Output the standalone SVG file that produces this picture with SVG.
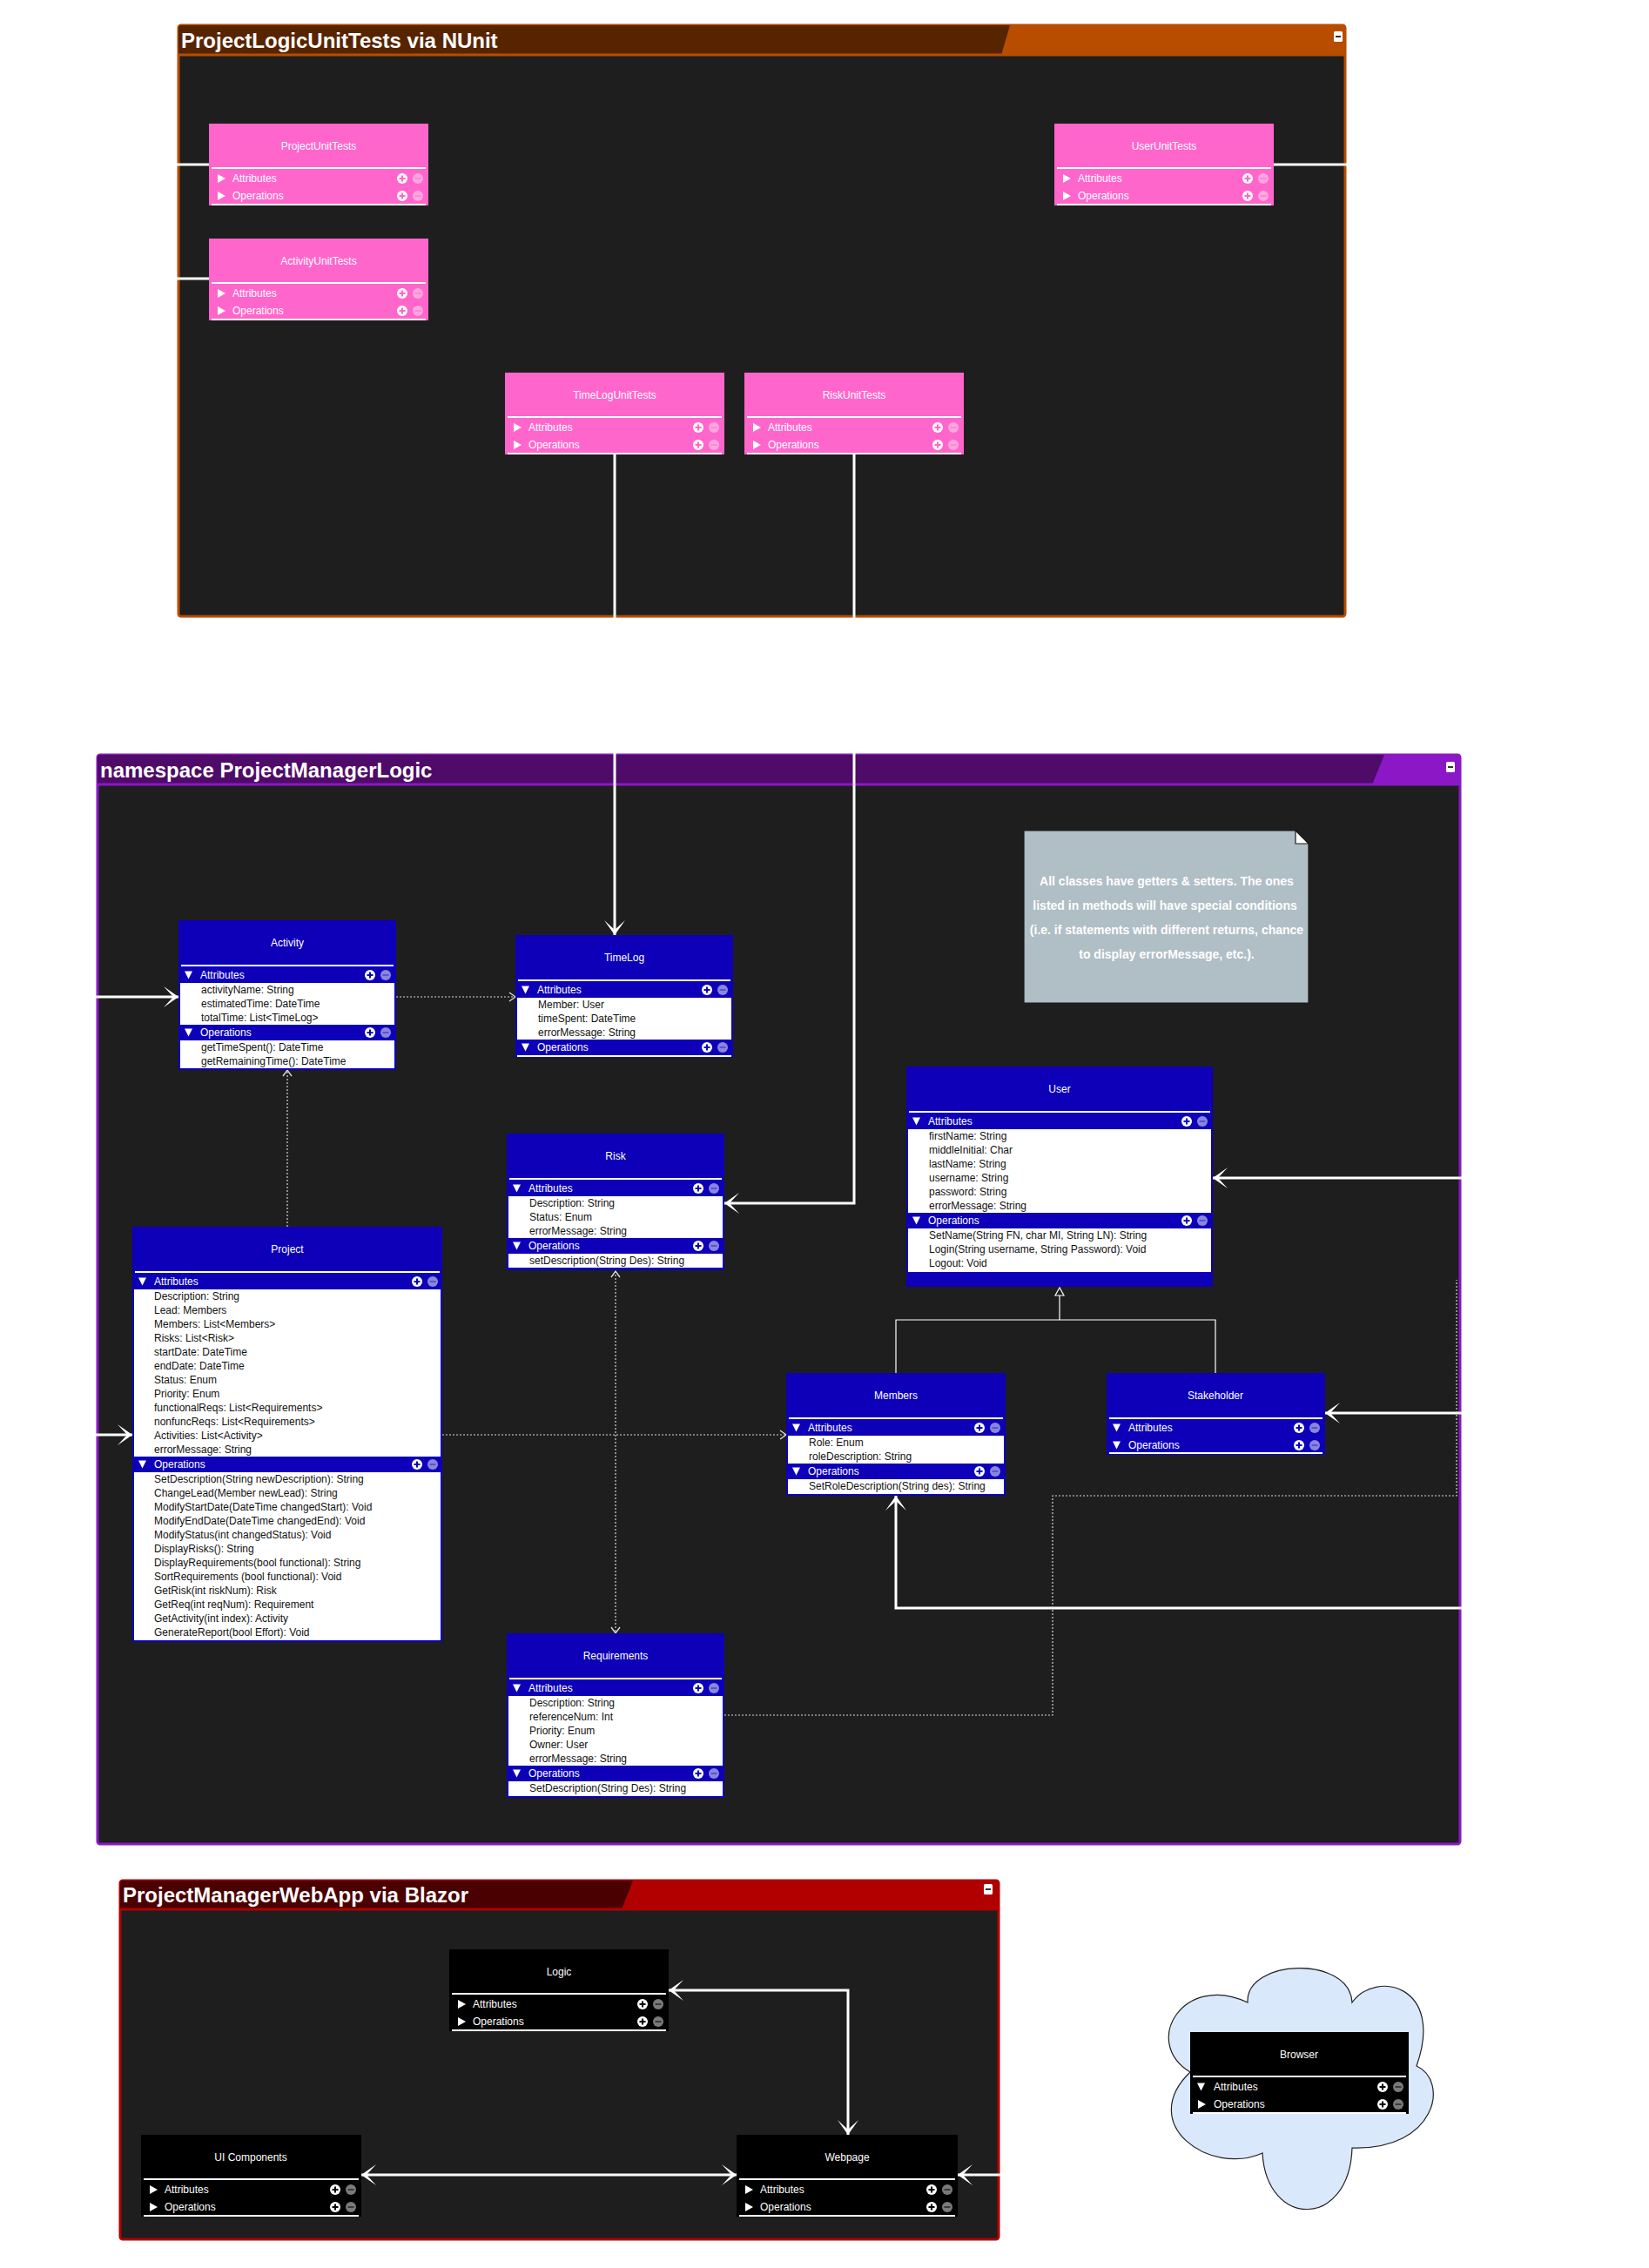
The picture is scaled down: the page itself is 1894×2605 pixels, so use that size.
<svg xmlns="http://www.w3.org/2000/svg" width="1894" height="2605" viewBox="0 0 1894 2605">
<style>
text{font-family:"Liberation Sans",Arial,Helvetica,sans-serif;font-size:12px}
.ft{font-size:24px;font-weight:bold;fill:#fff}
.tt{fill:#fff;text-anchor:middle}
.sh{fill:#fff}
.it{fill:#111}
.nt{font-size:14px;font-weight:bold;fill:#fff;text-anchor:middle}
.blu{fill:#0d00b8}
.pk{fill:#ff66cc}
.bk{fill:#000}
.wh{fill:#fff}
.con{fill:none;stroke:#fff;stroke-width:3}
.dot{fill:none;stroke:#d8d8d8;stroke-width:1.2;stroke-dasharray:2 2}
.gen{fill:none;stroke:#fff;stroke-width:1.2}
</style>
<defs>
<g id="pB"><circle r="6" fill="#fff"/><path d="M-3.5,0H3.5M0,-3.5V3.5" stroke="#0d00b8" stroke-width="2"/></g>
<g id="mB"><circle r="6" fill="#8a86dc"/><path d="M-3.5,0H3.5" stroke="#5b53cf" stroke-width="2"/></g>
<g id="pP"><circle r="6" fill="#fff"/><path d="M-3.5,0H3.5M0,-3.5V3.5" stroke="#ff66cc" stroke-width="2"/></g>
<g id="mP"><circle r="6" fill="#ffa6de"/><path d="M-3.5,0H3.5" stroke="#ff88d6" stroke-width="2"/></g>
<g id="pK"><circle r="6" fill="#fff"/><path d="M-3.5,0H3.5M0,-3.5V3.5" stroke="#000" stroke-width="2"/></g>
<g id="mK"><circle r="6" fill="#7a7a7a"/><path d="M-3.5,0H3.5" stroke="#3a3a3a" stroke-width="2"/></g>
<path id="tR" d="M0,-5L9,0L0,5Z" fill="#fff"/>
<path id="tD" d="M0,-4.5H9L4.5,4.5Z" fill="#fff"/>
<marker id="aw" viewBox="-20 -14 22 28" markerWidth="22" markerHeight="28" refX="0" refY="0" orient="auto-start-reverse" markerUnits="userSpaceOnUse"><path d="M0,0L-17,-12L-6,0L-17,12Z" fill="#fff"/></marker>
<marker id="ad" viewBox="-10 -7 12 14" markerWidth="12" markerHeight="14" refX="0" refY="0" orient="auto-start-reverse" markerUnits="userSpaceOnUse"><path d="M-7,-5L0,0L-7,5" fill="none" stroke="#e0e0e0" stroke-width="1.3"/></marker>
<marker id="ag" viewBox="-12 -7 14 14" markerWidth="14" markerHeight="14" refX="0" refY="0" orient="auto" markerUnits="userSpaceOnUse"><path d="M0,0L-9,-5L-9,5Z" fill="#1e1e1e" stroke="#fff" stroke-width="1.2"/></marker>
</defs>
<rect width="1894" height="2605" fill="#fff"/>

<!-- Frames -->
<g id="frame-unittests">
<rect x="205" y="29" width="1340" height="679" rx="3" fill="#1e1e1e" stroke="#b84d00" stroke-width="3"/>
<path d="M205,32Q205,29 208,29H1160L1150,63H205Z" fill="#572400"/>
<path d="M1160,29H1542Q1545,29 1545,32V63H1150Z" fill="#b84d00"/>
<line x1="205" y1="63" x2="1545" y2="63" stroke="#b84d00" stroke-width="3"/>
<text class="ft" x="208" y="55">ProjectLogicUnitTests via NUnit</text>
<rect x="1532" y="36" width="10" height="12" rx="1.5" fill="#fff"/><rect x="1534" y="41" width="6" height="2" fill="#333"/>
</g>
<g id="frame-logic">
<rect x="112" y="867" width="1565" height="1251" rx="3" fill="#1e1e1e" stroke="#8b17c7" stroke-width="3"/>
<path d="M112,870Q112,867 115,867H1590L1576,901H112Z" fill="#4e0b67"/>
<path d="M1590,867H1674Q1677,867 1677,870V901H1576Z" fill="#8b17c7"/>
<line x1="112" y1="901" x2="1677" y2="901" stroke="#8b17c7" stroke-width="3"/>
<text class="ft" x="115" y="893">namespace ProjectManagerLogic</text>
<rect x="1661" y="875" width="10" height="12" rx="1.5" fill="#fff"/><rect x="1663" y="880" width="6" height="2" fill="#333"/>
</g>
<g id="frame-webapp">
<rect x="138" y="2160" width="1009" height="412" rx="3" fill="#1e1e1e" stroke="#b00000" stroke-width="3"/>
<path d="M138,2163Q138,2160 141,2160H727L714,2193H138Z" fill="#4a0000"/>
<path d="M727,2160H1144Q1147,2160 1147,2163V2193H714Z" fill="#b00000"/>
<line x1="138" y1="2193" x2="1147" y2="2193" stroke="#b00000" stroke-width="3"/>
<text class="ft" x="141" y="2185">ProjectManagerWebApp via Blazor</text>
<rect x="1130" y="2164" width="10" height="12" rx="1.5" fill="#fff"/><rect x="1132" y="2169" width="6" height="2" fill="#333"/>
</g>
<g id="browser-cloud">
<path d="M1367,2380C1310,2345 1360,2265 1433,2300C1430,2250 1550,2245 1553,2300C1580,2262 1660,2280 1627,2373C1665,2390 1650,2470 1553,2467C1550,2560 1455,2560 1450,2473C1390,2500 1305,2440 1367,2380Z" fill="#dae8fc" stroke="#222" stroke-width="1.2"/>
</g>

<!-- Connectors -->
<g id="connectors">
<path class="con" d="M240,189H60V1648H152" marker-end="url(#aw)"/>
<path class="con" d="M240,320H80V1145H205" marker-end="url(#aw)"/>
<path class="con" d="M1463,189H1760V1353H1393" marker-end="url(#aw)"/>
<path class="con" d="M1760,1353V1623H1522" marker-end="url(#aw)"/>
<path class="con" d="M1760,1623V1847H1029V1718" marker-end="url(#aw)"/>
<path class="con" d="M706,522V1074" marker-end="url(#aw)"/>
<path class="con" d="M981,522V1382H832" marker-end="url(#aw)"/>
<path class="dot" d="M455,1145H592" marker-end="url(#ad)"/>
<path class="dot" d="M330,1409V1229" marker-end="url(#ad)"/>
<path class="dot" d="M508,1648H903" marker-end="url(#ad)"/>
<path class="dot" d="M707,1460V1876" marker-start="url(#ad)" marker-end="url(#ad)"/>
<path class="dot" d="M832,1970H1209V1718H1673V1470"/>
<path class="gen" d="M1029,1577V1516H1396V1577"/>
<path class="gen" d="M1217,1516V1479" marker-end="url(#ag)"/>
<path class="con" d="M768,2286H974V2452" marker-start="url(#aw)" marker-end="url(#aw)"/>
<path class="con" d="M415,2498H846" marker-start="url(#aw)" marker-end="url(#aw)"/>
<path class="con" d="M1250,2498H1100" marker-end="url(#aw)"/>
</g>

<!-- Unit test nodes -->
<g id="ProjectUnitTests">
<rect x="240" y="142" width="252" height="94" class="pk"/>
<text class="tt" x="366" y="172">ProjectUnitTests</text>
<rect x="243" y="192" width="246" height="2" class="wh"/>
<use href="#tR" x="250" y="205"/><text class="sh" x="267" y="209">Attributes</text><use href="#pP" x="462" y="205"/><use href="#mP" x="480" y="205"/>
<use href="#tR" x="250" y="225"/><text class="sh" x="267" y="229">Operations</text><use href="#pP" x="462" y="225"/><use href="#mP" x="480" y="225"/>
<rect x="243" y="234" width="246" height="2" class="wh"/>
</g>
<g id="ActivityUnitTests">
<rect x="240" y="274" width="252" height="94" class="pk"/>
<text class="tt" x="366" y="304">ActivityUnitTests</text>
<rect x="243" y="324" width="246" height="2" class="wh"/>
<use href="#tR" x="250" y="337"/><text class="sh" x="267" y="341">Attributes</text><use href="#pP" x="462" y="337"/><use href="#mP" x="480" y="337"/>
<use href="#tR" x="250" y="357"/><text class="sh" x="267" y="361">Operations</text><use href="#pP" x="462" y="357"/><use href="#mP" x="480" y="357"/>
<rect x="243" y="366" width="246" height="2" class="wh"/>
</g>
<g id="UserUnitTests">
<rect x="1211" y="142" width="252" height="94" class="pk"/>
<text class="tt" x="1337" y="172">UserUnitTests</text>
<rect x="1214" y="192" width="246" height="2" class="wh"/>
<use href="#tR" x="1221" y="205"/><text class="sh" x="1238" y="209">Attributes</text><use href="#pP" x="1433" y="205"/><use href="#mP" x="1451" y="205"/>
<use href="#tR" x="1221" y="225"/><text class="sh" x="1238" y="229">Operations</text><use href="#pP" x="1433" y="225"/><use href="#mP" x="1451" y="225"/>
<rect x="1214" y="234" width="246" height="2" class="wh"/>
</g>
<g id="TimeLogUnitTests">
<rect x="580" y="428" width="252" height="94" class="pk"/>
<text class="tt" x="706" y="458">TimeLogUnitTests</text>
<rect x="583" y="478" width="246" height="2" class="wh"/>
<use href="#tR" x="590" y="491"/><text class="sh" x="607" y="495">Attributes</text><use href="#pP" x="802" y="491"/><use href="#mP" x="820" y="491"/>
<use href="#tR" x="590" y="511"/><text class="sh" x="607" y="515">Operations</text><use href="#pP" x="802" y="511"/><use href="#mP" x="820" y="511"/>
<rect x="583" y="520" width="246" height="2" class="wh"/>
</g>
<g id="RiskUnitTests">
<rect x="855" y="428" width="252" height="94" class="pk"/>
<text class="tt" x="981" y="458">RiskUnitTests</text>
<rect x="858" y="478" width="246" height="2" class="wh"/>
<use href="#tR" x="865" y="491"/><text class="sh" x="882" y="495">Attributes</text><use href="#pP" x="1077" y="491"/><use href="#mP" x="1095" y="491"/>
<use href="#tR" x="865" y="511"/><text class="sh" x="882" y="515">Operations</text><use href="#pP" x="1077" y="511"/><use href="#mP" x="1095" y="511"/>
<rect x="858" y="520" width="246" height="2" class="wh"/>
</g>

<!-- Logic classes -->
<g id="Activity">
<rect x="205" y="1057" width="250" height="172" class="blu"/>
<text class="tt" x="330" y="1087">Activity</text>
<rect x="208" y="1108" width="244" height="2" class="wh"/>
<use href="#tD" x="212" y="1120"/><text class="sh" x="230" y="1124">Attributes</text><use href="#pB" x="425" y="1120"/><use href="#mB" x="443" y="1120"/>
<rect x="207" y="1129" width="246" height="48" class="wh"/>
<text class="it" x="231" y="1141">activityName: String<tspan x="231" dy="16">estimatedTime: DateTime</tspan><tspan x="231" dy="16">totalTime: List&lt;TimeLog&gt;</tspan></text>
<use href="#tD" x="212" y="1186"/><text class="sh" x="230" y="1190">Operations</text><use href="#pB" x="425" y="1186"/><use href="#mB" x="443" y="1186"/>
<rect x="207" y="1195" width="246" height="32" class="wh"/>
<text class="it" x="231" y="1207">getTimeSpent(): DateTime<tspan x="231" dy="16">getRemainingTime(): DateTime</tspan></text>
</g>
<g id="TimeLog">
<rect x="592" y="1074" width="250" height="141" class="blu"/>
<text class="tt" x="717" y="1104">TimeLog</text>
<rect x="595" y="1125" width="244" height="2" class="wh"/>
<use href="#tD" x="599" y="1137"/><text class="sh" x="617" y="1141">Attributes</text><use href="#pB" x="812" y="1137"/><use href="#mB" x="830" y="1137"/>
<rect x="594" y="1146" width="246" height="48" class="wh"/>
<text class="it" x="618" y="1158">Member: User<tspan x="618" dy="16">timeSpent: DateTime</tspan><tspan x="618" dy="16">errorMessage: String</tspan></text>
<use href="#tD" x="599" y="1203"/><text class="sh" x="617" y="1207">Operations</text><use href="#pB" x="812" y="1203"/><use href="#mB" x="830" y="1203"/>
<rect x="594" y="1212" width="246" height="2" class="wh"/>
</g>
<g id="Risk">
<rect x="582" y="1302" width="250" height="157" class="blu"/>
<text class="tt" x="707" y="1332">Risk</text>
<rect x="585" y="1353" width="244" height="2" class="wh"/>
<use href="#tD" x="589" y="1365"/><text class="sh" x="607" y="1369">Attributes</text><use href="#pB" x="802" y="1365"/><use href="#mB" x="820" y="1365"/>
<rect x="584" y="1374" width="246" height="48" class="wh"/>
<text class="it" x="608" y="1386">Description: String<tspan x="608" dy="16">Status: Enum</tspan><tspan x="608" dy="16">errorMessage: String</tspan></text>
<use href="#tD" x="589" y="1431"/><text class="sh" x="607" y="1435">Operations</text><use href="#pB" x="802" y="1431"/><use href="#mB" x="820" y="1431"/>
<rect x="584" y="1440" width="246" height="16" class="wh"/>
<text class="it" x="608" y="1452">setDescription(String Des): String</text>
</g>
<g id="User">
<rect x="1041" y="1225" width="352" height="253" class="blu"/>
<text class="tt" x="1217" y="1255">User</text>
<rect x="1044" y="1276" width="346" height="2" class="wh"/>
<use href="#tD" x="1048" y="1288"/><text class="sh" x="1066" y="1292">Attributes</text><use href="#pB" x="1363" y="1288"/><use href="#mB" x="1381" y="1288"/>
<rect x="1043" y="1297" width="348" height="96" class="wh"/>
<text class="it" x="1067" y="1309">firstName: String<tspan x="1067" dy="16">middleInitial: Char</tspan><tspan x="1067" dy="16">lastName: String</tspan><tspan x="1067" dy="16">username: String</tspan><tspan x="1067" dy="16">password: String</tspan><tspan x="1067" dy="16">errorMessage: String</tspan></text>
<use href="#tD" x="1048" y="1402"/><text class="sh" x="1066" y="1406">Operations</text><use href="#pB" x="1363" y="1402"/><use href="#mB" x="1381" y="1402"/>
<rect x="1043" y="1411" width="348" height="50" class="wh"/>
<text class="it" x="1067" y="1423">SetName(String FN, char MI, String LN): String<tspan x="1067" dy="16">Login(String username, String Password): Void</tspan><tspan x="1067" dy="16">Logout: Void</tspan></text>
</g>
<g id="Project">
<rect x="152" y="1409" width="356" height="477" class="blu"/>
<text class="tt" x="330" y="1439">Project</text>
<rect x="155" y="1460" width="350" height="2" class="wh"/>
<use href="#tD" x="159" y="1472"/><text class="sh" x="177" y="1476">Attributes</text><use href="#pB" x="479" y="1472"/><use href="#mB" x="497" y="1472"/>
<rect x="154" y="1481" width="352" height="192" class="wh"/>
<text class="it" x="177" y="1493">Description: String<tspan x="177" dy="16">Lead: Members</tspan><tspan x="177" dy="16">Members: List&lt;Members&gt;</tspan><tspan x="177" dy="16">Risks: List&lt;Risk&gt;</tspan><tspan x="177" dy="16">startDate: DateTime</tspan><tspan x="177" dy="16">endDate: DateTime</tspan><tspan x="177" dy="16">Status: Enum</tspan><tspan x="177" dy="16">Priority: Enum</tspan><tspan x="177" dy="16">functionalReqs: List&lt;Requirements&gt;</tspan><tspan x="177" dy="16">nonfuncReqs: List&lt;Requirements&gt;</tspan><tspan x="177" dy="16">Activities: List&lt;Activity&gt;</tspan><tspan x="177" dy="16">errorMessage: String</tspan></text>
<use href="#tD" x="159" y="1682"/><text class="sh" x="177" y="1686">Operations</text><use href="#pB" x="479" y="1682"/><use href="#mB" x="497" y="1682"/>
<rect x="154" y="1691" width="352" height="193" class="wh"/>
<text class="it" x="177" y="1703">SetDescription(String newDescription): String<tspan x="177" dy="16">ChangeLead(Member newLead): String</tspan><tspan x="177" dy="16">ModifyStartDate(DateTime changedStart): Void</tspan><tspan x="177" dy="16">ModifyEndDate(DateTime changedEnd): Void</tspan><tspan x="177" dy="16">ModifyStatus(int changedStatus): Void</tspan><tspan x="177" dy="16">DisplayRisks(): String</tspan><tspan x="177" dy="16">DisplayRequirements(bool functional): String</tspan><tspan x="177" dy="16">SortRequirements (bool functional): Void</tspan><tspan x="177" dy="16">GetRisk(int riskNum): Risk</tspan><tspan x="177" dy="16">GetReq(int reqNum): Requirement</tspan><tspan x="177" dy="16">GetActivity(int index): Activity</tspan><tspan x="177" dy="16">GenerateReport(bool Effort): Void</tspan></text>
</g>
<g id="Members">
<rect x="903" y="1577" width="252" height="141" class="blu"/>
<text class="tt" x="1029" y="1607">Members</text>
<rect x="906" y="1628" width="246" height="2" class="wh"/>
<use href="#tD" x="910" y="1640"/><text class="sh" x="928" y="1644">Attributes</text><use href="#pB" x="1125" y="1640"/><use href="#mB" x="1143" y="1640"/>
<rect x="905" y="1649" width="248" height="32" class="wh"/>
<text class="it" x="929" y="1661">Role: Enum<tspan x="929" dy="16">roleDescription: String</tspan></text>
<use href="#tD" x="910" y="1690"/><text class="sh" x="928" y="1694">Operations</text><use href="#pB" x="1125" y="1690"/><use href="#mB" x="1143" y="1690"/>
<rect x="905" y="1699" width="248" height="17" class="wh"/>
<text class="it" x="929" y="1711">SetRoleDescription(String des): String</text>
</g>
<g id="Stakeholder">
<rect x="1271" y="1577" width="251" height="94" class="blu"/>
<text class="tt" x="1396" y="1607">Stakeholder</text>
<rect x="1274" y="1628" width="245" height="2" class="wh"/>
<use href="#tD" x="1278" y="1640"/><text class="sh" x="1296" y="1644">Attributes</text><use href="#pB" x="1492" y="1640"/><use href="#mB" x="1510" y="1640"/>
<use href="#tD" x="1278" y="1660"/><text class="sh" x="1296" y="1664">Operations</text><use href="#pB" x="1492" y="1660"/><use href="#mB" x="1510" y="1660"/>
<rect x="1274" y="1668" width="245" height="2" class="wh"/>
</g>
<g id="Requirements">
<rect x="582" y="1876" width="250" height="189" class="blu"/>
<text class="tt" x="707" y="1906">Requirements</text>
<rect x="585" y="1927" width="244" height="2" class="wh"/>
<use href="#tD" x="589" y="1939"/><text class="sh" x="607" y="1943">Attributes</text><use href="#pB" x="802" y="1939"/><use href="#mB" x="820" y="1939"/>
<rect x="584" y="1948" width="246" height="80" class="wh"/>
<text class="it" x="608" y="1960">Description: String<tspan x="608" dy="16">referenceNum: Int</tspan><tspan x="608" dy="16">Priority: Enum</tspan><tspan x="608" dy="16">Owner: User</tspan><tspan x="608" dy="16">errorMessage: String</tspan></text>
<use href="#tD" x="589" y="2037"/><text class="sh" x="607" y="2041">Operations</text><use href="#pB" x="802" y="2037"/><use href="#mB" x="820" y="2037"/>
<rect x="584" y="2046" width="246" height="17" class="wh"/>
<text class="it" x="608" y="2058">SetDescription(String Des): String</text>
</g>
<g id="Note">
<path d="M1176,954H1488L1503,969V1152H1176Z" fill="#b0bec5" stroke="#1a1a1a" stroke-width="1.2"/>
<path d="M1488,954L1503,969H1488Z" fill="#fff" stroke="#1a1a1a" stroke-width="1.2"/>
<text class="nt" x="1340" y="1017">All classes have getters &amp; setters. The ones<tspan x="1340" dy="28">listed in methods will have special conditions </tspan><tspan x="1340" dy="28">(i.e. if statements with different returns, chance</tspan><tspan x="1340" dy="28">to display errorMessage, etc.).</tspan></text>
</g>

<!-- Web app nodes -->
<g id="Logic">
<rect x="516" y="2239" width="252" height="94" class="bk"/>
<text class="tt" x="642" y="2269">Logic</text>
<rect x="519" y="2289" width="246" height="2" class="wh"/>
<use href="#tR" x="526" y="2302"/><text class="sh" x="543" y="2306">Attributes</text><use href="#pK" x="738" y="2302"/><use href="#mK" x="756" y="2302"/>
<use href="#tR" x="526" y="2322"/><text class="sh" x="543" y="2326">Operations</text><use href="#pK" x="738" y="2322"/><use href="#mK" x="756" y="2322"/>
<rect x="519" y="2331" width="246" height="2" class="wh"/>
</g>
<g id="UIComponents">
<rect x="162" y="2452" width="253" height="94" class="bk"/>
<text class="tt" x="288" y="2482">UI Components</text>
<rect x="165" y="2502" width="247" height="2" class="wh"/>
<use href="#tR" x="172" y="2515"/><text class="sh" x="189" y="2519">Attributes</text><use href="#pK" x="385" y="2515"/><use href="#mK" x="403" y="2515"/>
<use href="#tR" x="172" y="2535"/><text class="sh" x="189" y="2539">Operations</text><use href="#pK" x="385" y="2535"/><use href="#mK" x="403" y="2535"/>
<rect x="165" y="2544" width="247" height="2" class="wh"/>
</g>
<g id="Webpage">
<rect x="846" y="2452" width="254" height="94" class="bk"/>
<text class="tt" x="973" y="2482">Webpage</text>
<rect x="849" y="2502" width="248" height="2" class="wh"/>
<use href="#tR" x="856" y="2515"/><text class="sh" x="873" y="2519">Attributes</text><use href="#pK" x="1070" y="2515"/><use href="#mK" x="1088" y="2515"/>
<use href="#tR" x="856" y="2535"/><text class="sh" x="873" y="2539">Operations</text><use href="#pK" x="1070" y="2535"/><use href="#mK" x="1088" y="2535"/>
<rect x="849" y="2544" width="248" height="2" class="wh"/>
</g>
<g id="Browser">
<rect x="1367" y="2334" width="251" height="94" class="bk"/>
<text class="tt" x="1492" y="2364">Browser</text>
<rect x="1370" y="2384" width="245" height="2" class="wh"/>
<use href="#tD" x="1375" y="2397"/><text class="sh" x="1394" y="2401">Attributes</text><use href="#pK" x="1588" y="2397"/><use href="#mK" x="1606" y="2397"/>
<use href="#tR" x="1376" y="2417"/><text class="sh" x="1394" y="2421">Operations</text><use href="#pK" x="1588" y="2417"/><use href="#mK" x="1606" y="2417"/>
<rect x="1370" y="2426" width="245" height="2" class="wh"/>
</g>
</svg>
